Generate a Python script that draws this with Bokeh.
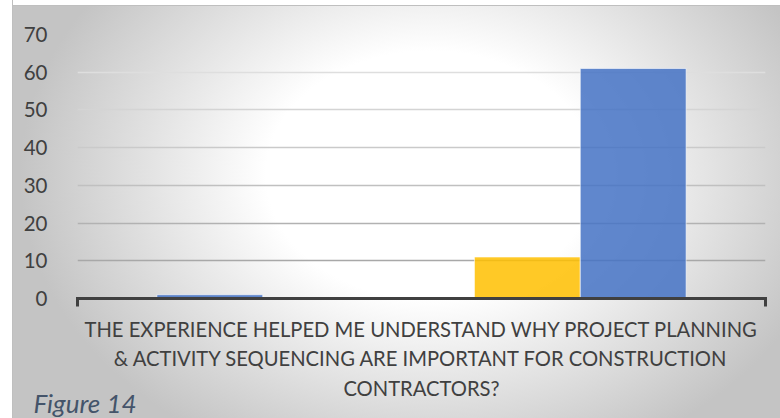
from bokeh.plotting import figure
from bokeh.models import (Range1d, LinearAxis, FixedTicker, Grid, Title, InlineStyleSheet,
                          ColumnDataSource, CustomJSTickFormatter)
from bokeh.embed import file_html
from bokeh.resources import INLINE

# ---- data ----
question = ("THE EXPERIENCE HELPED ME UNDERSTAND WHY PROJECT PLANNING\n"
            "& ACTIVITY SEQUENCING ARE IMPORTANT FOR CONSTRUCTION\n"
            "CONTRACTORS?")
series = ["Strongly Disagree", "Disagree", "Neutral", "Agree", "Strongly Agree"]
counts = [1, 0, 0, 11, 61]
y_ticks = [0, 10, 20, 30, 40, 50, 60, 70]
caption = "Figure 14"

# ---- styles ----
bar_colors = ["#4472C4", "#ED7D31", "#A5A5A5", "#FFC000", "#4472C4"]
grid_colors = ["#a8a8a8", "#b2b2b2", "#c0c0c0", "#cacaca", "#d4d4d4", "#dedede", "#e8e8e8"]
FONT = "Lato"
TXT = "#404040"

W, H = 780, 418
css = """
:host {
  background:
    linear-gradient(to right, #ffffff 0px, #ffffff 12px, #bfbfbf 12px, #bfbfbf 13px, transparent 13px),
    linear-gradient(to bottom, #ffffff 0px, #ffffff 5px, #bfbfbf 5px, #bfbfbf 6px, transparent 6px),
    radial-gradient(ellipse 410px 310px at 430px 175px, #ffffff 40%, #c4c4c4 100%);
}
"""

# one category (index 0) spanning -0.5 .. 0.5
p = figure(width=W, height=H,
           x_range=Range1d(-0.5, 0.5),
           y_range=Range1d(y_ticks[0], y_ticks[-1]),
           output_backend="svg", toolbar_location=None, x_axis_location=None,
           min_border_left=77, min_border_right=15, min_border_top=34, min_border_bottom=120)
p.stylesheets = [InlineStyleSheet(css=css)]
p.border_fill_color = None
p.background_fill_color = None
p.outline_line_color = None
p.grid.visible = False

# y axis
p.yaxis.ticker = FixedTicker(ticks=y_ticks)
p.yaxis.axis_line_color = None
p.yaxis.major_tick_line_color = None
p.yaxis.minor_tick_line_color = None
p.yaxis.major_label_standoff = 24
p.yaxis.major_label_text_font = FONT
p.yaxis.major_label_text_font_size = "20.5px"
p.yaxis.major_label_text_color = TXT

# horizontal gridlines (one per tick, shaded)
for t, c in zip(y_ticks[1:], grid_colors):
    p.add_layout(Grid(dimension=1, ticker=FixedTicker(ticks=[t]),
                      grid_line_color=c, grid_line_width=1.5))

# bars: one category, five series, Excel-like gap width 150%
n = len(series)
bar_w = 1.0 / (n + 1.5)
src = ColumnDataSource(dict(
    x=[(i - (n - 1) / 2) * bar_w for i in range(n)],
    top=counts, name=series, color=bar_colors))
p.vbar(x="x", top="top", width=bar_w, source=src,
       fill_color="color", fill_alpha=0.85, line_color="white", line_alpha=0.6, line_width=1)

# bottom axis line with end ticks at the category boundaries
edge_axis = LinearAxis(ticker=FixedTicker(ticks=[-0.5, 0.5]),
                       formatter=CustomJSTickFormatter(code="return ''"),
                       axis_line_color=TXT, axis_line_width=3, axis_line_cap="square",
                       major_tick_line_color=TXT, major_tick_line_width=3,
                       major_tick_in=0, major_tick_out=8,
                       minor_tick_line_color=None,
                       major_label_text_font_size="1px", major_label_standoff=0)
p.add_layout(edge_axis, "below")

# category label
cat_axis = LinearAxis(ticker=FixedTicker(ticks=[0]),
                      formatter=CustomJSTickFormatter(args=dict(label=question), code="return label"),
                      axis_line_color=None, major_tick_line_color=None,
                      minor_tick_line_color=None,
                      major_label_text_font=FONT, major_label_text_font_size="20.2px",
                      major_label_text_color=TXT, major_label_text_line_height=1.24,
                      major_label_standoff=4)
p.add_layout(cat_axis, "below")

# caption
p.add_layout(Title(text=caption, align="left", offset=-44, standoff=-34, vertical_align="top",
                   text_font=FONT, text_font_style="italic", text_font_size="26px",
                   text_color="#44546A", text_line_height=1.0), "below")

open("out.html", "w").write(file_html(p, INLINE))
